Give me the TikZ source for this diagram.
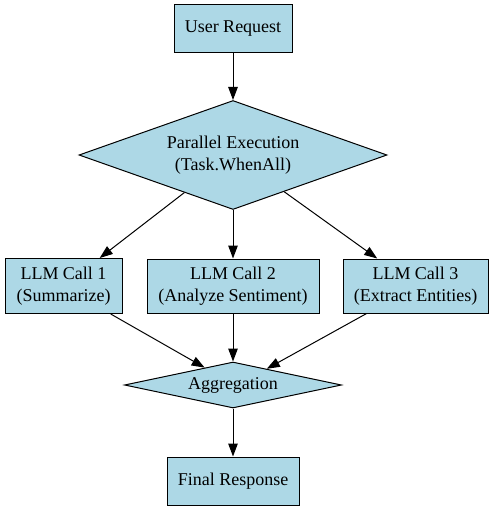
\documentclass[tikz,border=0pt]{standalone}
\usepackage{fontspec}
\setmainfont{Liberation Serif}
\usetikzlibrary{arrows.meta, shapes.geometric, calc}
\definecolor{nodeColor}{RGB}{173,216,230}

\begin{document}
\begin{tikzpicture}[
    x=1pt, y=1pt,
    box/.style={draw=black, line width=1pt, fill=nodeColor, align=center, inner sep=0pt},
    decision/.style={diamond, draw=black, line width=1pt, fill=nodeColor, align=center, inner sep=0pt},
    link/.style={-{Triangle[length=13pt, width=9.5pt]}, line width=1pt, draw=black},
    every node/.style={font=\fontsize{18}{22}\selectfont, text=black}
]
% Fix the canvas to the reference size
\useasboundingbox (0,0) rectangle (494,-511);

% Request on top
\node[box, minimum width=118pt, minimum height=48pt] (request) at (233,-29) {User Request};

% Fan-out
\node[decision, minimum width=308pt, minimum height=109pt, aspect=2.8] (parallel) at (233,-155) {Parallel Execution\\(Task.WhenAll)};

% Parallel LLM calls
\node[box, minimum width=117pt, minimum height=55pt] (call1) at (63.5,-286) {LLM Call 1\\(Summarize)};
\node[box, minimum width=172pt, minimum height=54pt] (call2) at (233,-286) {LLM Call 2\\(Analyze Sentiment)};
\node[box, minimum width=145pt, minimum height=54pt] (call3) at (415.5,-286) {LLM Call 3\\(Extract Entities)};

% Fan-in
\node[decision, minimum width=217pt, minimum height=46pt, aspect=4.7] (aggregate) at (233,-385) {Aggregation};

% Result
\node[box, minimum width=132pt, minimum height=48pt] (final) at (233,-481) {Final Response};

% Connections
\draw[link] (request) -- (parallel);
\foreach \i in {1,2,3} {
    \draw[link] (parallel) -- (call\i);
}
\draw[link] ($(call1.south)!0.8!(call1.south east)$) -- ($(aggregate.north)!0.26!(aggregate.west)$);
\draw[link] (call2) -- (aggregate);
\draw[link] ($(call3.south)!0.67!(call3.south west)$) -- ($(aggregate.north)!0.31!(aggregate.east)$);
\draw[link] (aggregate) -- (final);

\end{tikzpicture}
\end{document}
